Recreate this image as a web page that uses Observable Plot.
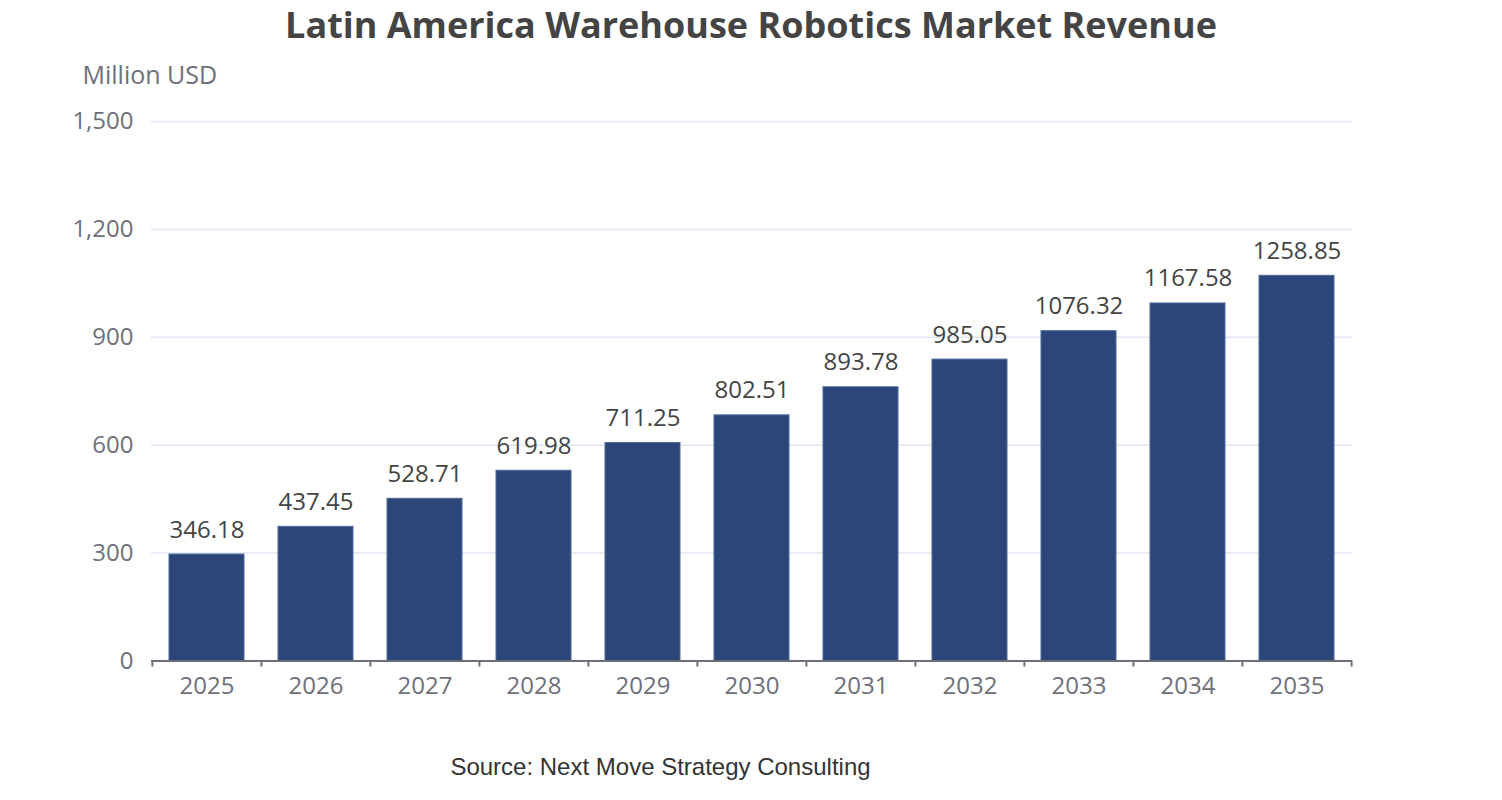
<!DOCTYPE html>
<html>
<head>
<meta charset="utf-8">
<script src="https://cdn.jsdelivr.net/npm/d3@7"></script>
<script src="https://cdn.jsdelivr.net/npm/@observablehq/plot@0.6"></script>
<style>
  html, body { margin: 0; padding: 0; background: #fff; }
  #wrap { position: relative; width: 1502px; height: 800px; overflow: hidden; }
  #title { position: absolute; left: 0; top: 0; width: 1502px; text-align: center;
    font-family: "Open Sans", sans-serif; font-weight: 700; font-size: 36px; color: #444;
    line-height: normal; }
  #source { position: absolute; left: 0; top: 752px; width: 1321px; text-align: center;
    font-family: "Liberation Sans", Arial, sans-serif; font-size: 24px; color: #333; line-height: 30px; }
  #chart { position: absolute; left: 0; top: 50px; }
</style>
</head>
<body>
<div id="wrap">
  <div id="title">Latin America Warehouse Robotics Market Revenue</div>
  <div id="chart"></div>
  <div id="source">Source: Next Move Strategy Consulting</div>
</div>
<script>
const years = ["2025","2026","2027","2028","2029","2030","2031","2032","2033","2034","2035"];
const barValues = [296, 373, 451, 529, 606, 683, 761, 838, 917, 994, 1071];
const labelValues = ["346.18","437.45","528.71","619.98","711.25","802.51","893.78","985.05","1076.32","1167.58","1258.85"];
const yTicks = [0, 300, 600, 900, 1200, 1500];
const yUnit = "Million USD";

const data = years.map((y, i) => ({year: y, value: barValues[i], label: labelValues[i]}));

const W = 1502, H = 750, ML = 151, MR = 150, MT = 71, MB = 139.5;
const step = (W - ML - MR) / years.length;
const font = "'Open Sans', 'Noto Sans', sans-serif";

const chart = Plot.plot({
  width: W,
  height: H,
  marginLeft: ML,
  marginRight: MR,
  marginTop: MT,
  marginBottom: MB,
  style: {fontFamily: font, fontSize: "24px", background: "#fff"},
  x: {domain: years, paddingInner: 0.31, paddingOuter: 0.155, label: null},
  y: {domain: [0, 1500], label: null},
  marks: [
    Plot.gridY(yTicks, {stroke: "#E0E6F1", strokeOpacity: 1, strokeWidth: 1.5}),
    Plot.axisY({ticks: yTicks, tickSize: 0, tickPadding: 18, fontSize: 24, color: "#6E7079",
      tickFormat: d3.format(","), label: null}),
    Plot.axisX({tickSize: 0, tickPadding: 16, fontSize: 24, color: "#6E7079", label: null}),
    Plot.barY(data, {x: "year", y: "value", fill: "#2c4679", stroke: "#4d6a9a", strokeWidth: 1}),
    Plot.ruleY([0], {stroke: "#6E7079", strokeWidth: 2}),
    Plot.ruleX(years, {x: d => d, y1: 0, y2: 0, insetBottom: -6, dx: -step / 2, stroke: "#6E7079", strokeWidth: 2}),
    Plot.ruleX([years[years.length - 1]], {x: d => d, y1: 0, y2: 0, insetBottom: -6, dx: step / 2, stroke: "#6E7079", strokeWidth: 2}),
    Plot.text(data, {x: "year", y: "value", text: "label", dy: -17, lineAnchor: "bottom",
      fontSize: 24, fill: "#444"}),
    Plot.text([yUnit], {frameAnchor: "top-left", dx: -69, dy: -55, textAnchor: "start",
      fontSize: 25, fill: "#6E7079"})
  ]
});
document.getElementById("chart").appendChild(chart);
</script>
</body>
</html>
